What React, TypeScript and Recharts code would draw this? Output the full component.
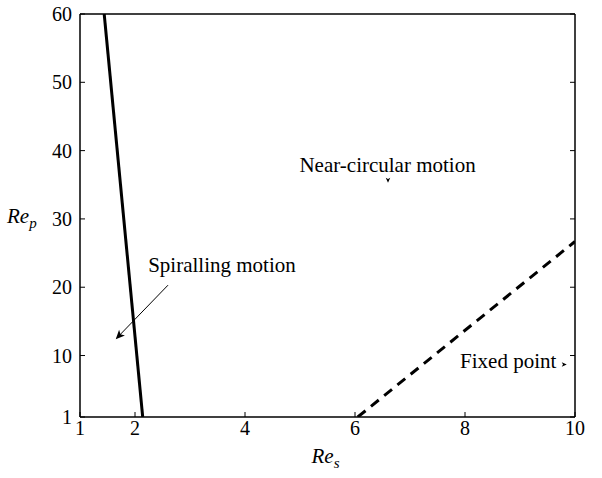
import React from "react";
import {
  ComposedChart,
  Line,
  XAxis,
  YAxis,
  Label,
  ReferenceLine,
  ReferenceDot,
} from "recharts";

// axes
const xTicks = [1, 2, 4, 6, 8, 10];
const yTicks = [1, 10, 20, 30, 40, 50, 60];

// spiralling / near-circular boundary (solid)
const spiralRes = [1.44, 2.14];
const spiralRep = [60, 1];

// fixed point boundary (dashed)
const fixedRes = [6.05, 10];
const fixedRep = [1, 26.7];

// annotations
const noteText = ["Near-circular motion", "Spiralling motion", "Fixed point"];
const noteRes = [4.99, 2.24, 7.91];
const noteRep = [36.8, 22.2, 8.2];

// arrows: [Res, Rep] start and tip
const arrowFrom = [
  [6.6, 36.2],
  [2.6, 20.3],
  [9.7, 8.7],
];
const arrowTo = [
  [6.6, 35.3],
  [1.65, 12.4],
  [9.85, 8.7],
];
const arrowHead = [5, 9, 5];

const spiralData = spiralRes.map((x, i) => ({ x, y: spiralRep[i] }));
const fixedData = fixedRes.map((x, i) => ({ x, y: fixedRep[i] }));

const FONT = '"Liberation Serif", "Times New Roman", Times, serif';

const arrowShape = (head: number, shaft: boolean) => (p: any) => {
  const { x1, y1, x2, y2 } = p;
  const ang = Math.atan2(y2 - y1, x2 - x1);
  const ux = Math.cos(ang);
  const uy = Math.sin(ang);
  const bx = x2 - ux * head;
  const by = y2 - uy * head;
  const nx = -uy;
  const ny = ux;
  const w = head * 0.45;
  const notch = head * 0.75;
  const pts = `${x2},${y2} ${bx + nx * w},${by + ny * w} ${x2 - ux * notch},${
    y2 - uy * notch
  } ${bx - nx * w},${by - ny * w}`;
  return (
    <g>
      {shaft && <line x1={x1} y1={y1} x2={x2 - ux * 2} y2={y2 - uy * 2} stroke="#000" strokeWidth={1} />}
      <polygon points={pts} fill="#000" />
    </g>
  );
};

const noteShape = (text: string) => (p: any) => (
  <text x={p.cx} y={p.cy} style={{ fontFamily: FONT }} fontSize={21} fill="#000">
    {text}
  </text>
);

function ReTitle({ x, y, sub }: { x: number; y: number; sub: string }) {
  return (
    <text x={x} y={y} style={{ fontFamily: FONT }} fontSize={21} fontStyle="italic" fill="#000">
      Re
      <tspan fontSize={15} dy={5}>
        {sub}
      </tspan>
    </text>
  );
}

export default function App() {
  const tickStyle = { fontSize: 20, fill: "#000", style: { fontFamily: FONT } };
  const axisLine = { stroke: "#000", strokeWidth: 1.5 };
  const tickLine = { stroke: "#000", strokeWidth: 1 };
  return (
    <div style={{ position: "absolute", left: 0, top: 0, background: "#fff", fontFamily: FONT }}>
      <ComposedChart width={602} height={478} margin={{ top: 0, right: 0, bottom: 0, left: 0 }} style={{ fontFamily: FONT }}>
        <XAxis
          xAxisId="b"
          dataKey="x"
          type="number"
          domain={[1, 10]}
          ticks={xTicks}
          allowDataOverflow
          height={61}
          tickSize={-5}
          tickMargin={9}
          tick={tickStyle}
          axisLine={axisLine}
          tickLine={tickLine}
        >
          <Label
            content={(props: any) => {
              const vb = props.viewBox;
              return <ReTitle x={vb.x + vb.width / 2 - 16} y={vb.y + 46} sub="s" />;
            }}
          />
        </XAxis>
        <XAxis
          xAxisId="t"
          orientation="top"
          type="number"
          domain={[1, 10]}
          ticks={xTicks}
          allowDataOverflow
          height={14}
          tickSize={-5}
          tickFormatter={() => ""}
          axisLine={axisLine}
          tickLine={tickLine}
        />
        <YAxis
          yAxisId="l"
          type="number"
          domain={[1, 60]}
          ticks={yTicks}
          allowDataOverflow
          width={80}
          tickSize={-5}
          tickMargin={13}
          tick={tickStyle}
          axisLine={axisLine}
          tickLine={tickLine}
        >
          <Label
            content={(props: any) => {
              const vb = props.viewBox;
              return <ReTitle x={vb.x + 7} y={vb.y + vb.height / 2 + 7} sub="p" />;
            }}
          />
        </YAxis>
        <YAxis
          yAxisId="r"
          orientation="right"
          type="number"
          domain={[1, 60]}
          ticks={yTicks}
          allowDataOverflow
          width={27}
          tickSize={-5}
          tickFormatter={() => ""}
          axisLine={axisLine}
          tickLine={tickLine}
        />
        <Line
          xAxisId="b"
          yAxisId="l"
          data={spiralData}
          dataKey="y"
          stroke="#000"
          strokeWidth={3}
          dot={false}
          isAnimationActive={false}
        />
        <Line
          xAxisId="b"
          yAxisId="l"
          data={fixedData}
          dataKey="y"
          stroke="#000"
          strokeWidth={3}
          strokeDasharray="10 7"
          dot={false}
          isAnimationActive={false}
        />
        {noteText.map((t, i) => (
          <ReferenceDot
            key={t}
            xAxisId="b"
            yAxisId="l"
            x={noteRes[i]}
            y={noteRep[i]}
            r={0}
            shape={noteShape(t)}
          />
        ))}
        {arrowFrom.map((f, i) => (
          <ReferenceLine
            key={i}
            xAxisId="b"
            yAxisId="l"
            segment={[
              { x: f[0], y: f[1] },
              { x: arrowTo[i][0], y: arrowTo[i][1] },
            ]}
            shape={arrowShape(arrowHead[i], i === 1)}
          />
        ))}
      </ComposedChart>
    </div>
  );
}
